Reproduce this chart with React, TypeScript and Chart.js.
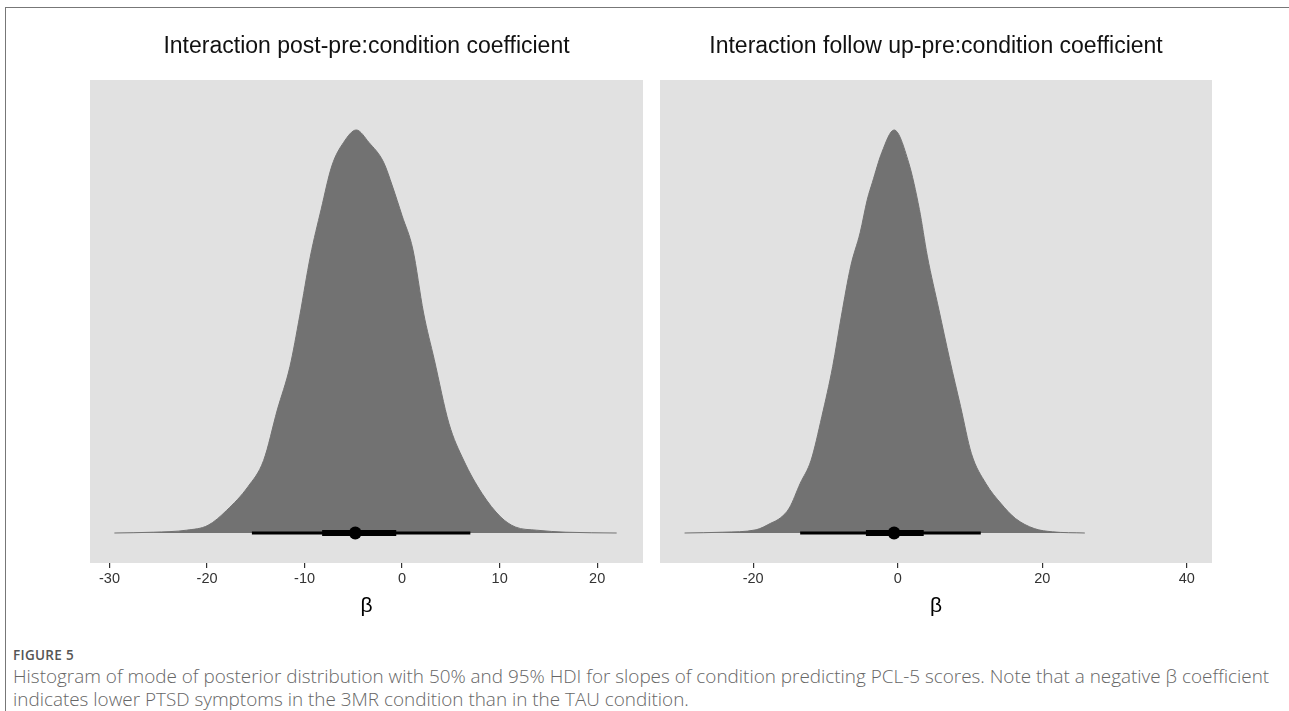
import React, { useEffect, useRef } from "react";
import { Chart, registerables } from "chart.js";
Chart.register(...registerables);

// ---------- data ----------
const panelTitles = [
  "Interaction post-pre:condition coefficient",
  "Interaction follow up-pre:condition coefficient",
];
const axisLabel = "β";

// panel 1: post-pre
const postX = [-29.5, -25.5, -22.1, -19.9, -18.0, -15.8, -14.2, -12.8, -11.5, -10.5, -9.4, -8.3, -7.2, -6.0, -4.7, -3.4, -1.9, -1.0, 0.0, 1.1, 2.2, 3.3, 4.8, 6.3, 8.2, 10.1, 11.6, 13.8, 16.8, 22.0];
const postDensity = [0, 0.002, 0.007, 0.019, 0.056, 0.115, 0.18, 0.305, 0.413, 0.538, 0.687, 0.803, 0.911, 0.969, 1.0, 0.969, 0.92, 0.861, 0.787, 0.704, 0.546, 0.43, 0.272, 0.181, 0.098, 0.04, 0.015, 0.007, 0.002, 0];
const postMode = -4.8;
const postHdi50 = [-8.2, -0.6];
const postHdi95 = [-15.4, 7.0];
const postRange = [-32.0, 24.7];
const postStep = 10;

// panel 2: follow up-pre
const fuX = [-29.5, -24.2, -19.6, -17.6, -16.2, -15.0, -13.5, -12.0, -10.5, -9.0, -7.8, -6.5, -5.2, -4.2, -3.5, -2.2, -0.5, 1.5, 3.0, 4.1, 5.7, 7.2, 8.7, 10.2, 12.2, 14.3, 16.3, 18.9, 21.4, 25.9];
const fuDensity = [0, 0.002, 0.008, 0.024, 0.038, 0.062, 0.123, 0.18, 0.289, 0.413, 0.538, 0.662, 0.745, 0.828, 0.87, 0.944, 1.0, 0.92, 0.803, 0.687, 0.554, 0.43, 0.314, 0.197, 0.123, 0.073, 0.036, 0.011, 0.003, 0];
const fuMode = -0.5;
const fuHdi50 = [-4.4, 3.6];
const fuHdi95 = [-13.5, 11.5];
const fuRange = [-32.9, 43.5];
const fuStep = 20;

const yRange = [-0.0744, 1.124];

const FONT = "'Liberation Sans', Arial, Helvetica, sans-serif";

const bgPlugin = {
  id: "panelBg",
  beforeDraw(chart: any) {
    const { ctx, chartArea } = chart;
    ctx.save();
    ctx.fillStyle = "#e1e1e1";
    ctx.fillRect(chartArea.left, chartArea.top, chartArea.right - chartArea.left, chartArea.bottom - chartArea.top);
    ctx.restore();
  },
};

function Panel(props: {
  xs: number[];
  dens: number[];
  mode: number;
  h50: number[];
  h95: number[];
  range: number[];
  step: number;
  padL: number;
  padR: number;
  width: number;
}) {
  const ref = useRef<HTMLCanvasElement | null>(null);
  useEffect(() => {
    if (!ref.current) return;
    const { xs, dens, mode, h50, h95, range, step, padL, padR } = props;
    const chart = new Chart(ref.current, {
      type: "line",
      data: {
        datasets: [
          {
            data: [{ x: mode, y: 0 }],
            showLine: false,
            pointRadius: 6.5,
            pointBackgroundColor: "#000",
            pointBorderWidth: 0,
            order: 1,
          } as any,
          {
            data: [
              { x: h50[0], y: 0 },
              { x: h50[1], y: 0 },
            ],
            borderColor: "#000",
            borderWidth: 6,
            borderCapStyle: "butt",
            pointRadius: 0,
            order: 2,
          },
          {
            data: [
              { x: h95[0], y: 0 },
              { x: h95[1], y: 0 },
            ],
            borderColor: "#000",
            borderWidth: 3,
            borderCapStyle: "butt",
            pointRadius: 0,
            order: 3,
          },
          {
            data: xs.map((x, i) => ({ x, y: dens[i] })),
            borderColor: "#727272",
            backgroundColor: "#727272",
            borderWidth: 1,
            fill: "origin",
            cubicInterpolationMode: "monotone",
            pointRadius: 0,
            order: 4,
          },
        ],
      },
      options: {
        animation: false,
        responsive: false,
        events: [],
        layout: { padding: { left: padL, right: padR, top: 80, bottom: 7 } },
        plugins: { legend: { display: false }, tooltip: { enabled: false }, title: { display: false } },
        scales: {
          x: {
            type: "linear",
            min: range[0],
            max: range[1],
            border: { display: false },
            grid: {
              display: true,
              drawOnChartArea: false,
              drawTicks: true,
              tickLength: 5,
              color: "#333",
              lineWidth: 1.2,
            },
            ticks: {
              stepSize: step,
              includeBounds: false,
              color: "#333",
              font: { family: FONT, size: 14.5 },
              padding: 2,
              maxRotation: 0,
              autoSkip: false,
            },
            title: {
              display: true,
              text: axisLabel,
              color: "#000",
              font: { family: FONT, size: 21 },
              padding: { top: 0, bottom: 14 },
            },
            afterFit: (s: any) => {
              s.height = 70;
            },
          } as any,
          y: {
            type: "linear",
            display: false,
            min: yRange[0],
            max: yRange[1],
          },
        },
      },
      plugins: [bgPlugin],
    });
    return () => chart.destroy();
  }, []);
  return <canvas ref={ref} width={props.width} height={640} style={{ display: "block", width: props.width, height: 640 }} />;
}

export default function App() {
  return (
    <div
      style={{
        position: "fixed",
        left: 0,
        top: 0,
        width: 1289,
        height: 711,
        background: "#fff",
        overflow: "hidden",
      }}
    >
      <div
        style={{
          position: "absolute",
          left: 5,
          top: 7,
          right: -2,
          bottom: -2,
          borderTop: "1px solid #777",
          borderLeft: "1px solid #777",
        }}
      />
      <div style={{ position: "absolute", left: 0, top: 0 }}>
        <Panel xs={postX} dens={postDensity} mode={postMode} h50={postHdi50} h95={postHdi95} range={postRange} step={postStep} padL={90} padR={7} width={650} />
      </div>
      <div style={{ position: "absolute", left: 650, top: 0 }}>
        <Panel xs={fuX} dens={fuDensity} mode={fuMode} h50={fuHdi50} h95={fuHdi95} range={fuRange} step={fuStep} padL={10} padR={77} width={639} />
      </div>
      <div style={{ position: "absolute", left: 90, width: 553, top: 31, textAlign: "center", font: `23px ${FONT}`, lineHeight: "28px", color: "#111", whiteSpace: "nowrap" }}>
        {panelTitles[0]}
      </div>
      <div style={{ position: "absolute", left: 660, width: 552, top: 31, textAlign: "center", font: `23px ${FONT}`, lineHeight: "28px", color: "#111", whiteSpace: "nowrap" }}>
        {panelTitles[1]}
      </div>
      <div style={{ position: "absolute", left: 13, top: 645, font: "600 13.5px 'Open Sans', sans-serif", lineHeight: "20px", color: "#555", letterSpacing: 0.3 }}>
        FIGURE 5
      </div>
      <div style={{ position: "absolute", left: 13, top: 665, font: "300 18.9px 'Open Sans', sans-serif", lineHeight: "23px", color: "#666", whiteSpace: "nowrap" }}>
        <div>Histogram of mode of posterior distribution with 50% and 95% HDI for slopes of condition predicting PCL-5 scores. Note that a negative β coefficient</div>
        <div>indicates lower PTSD symptoms in the 3MR condition than in the TAU condition.</div>
      </div>
    </div>
  );
}
